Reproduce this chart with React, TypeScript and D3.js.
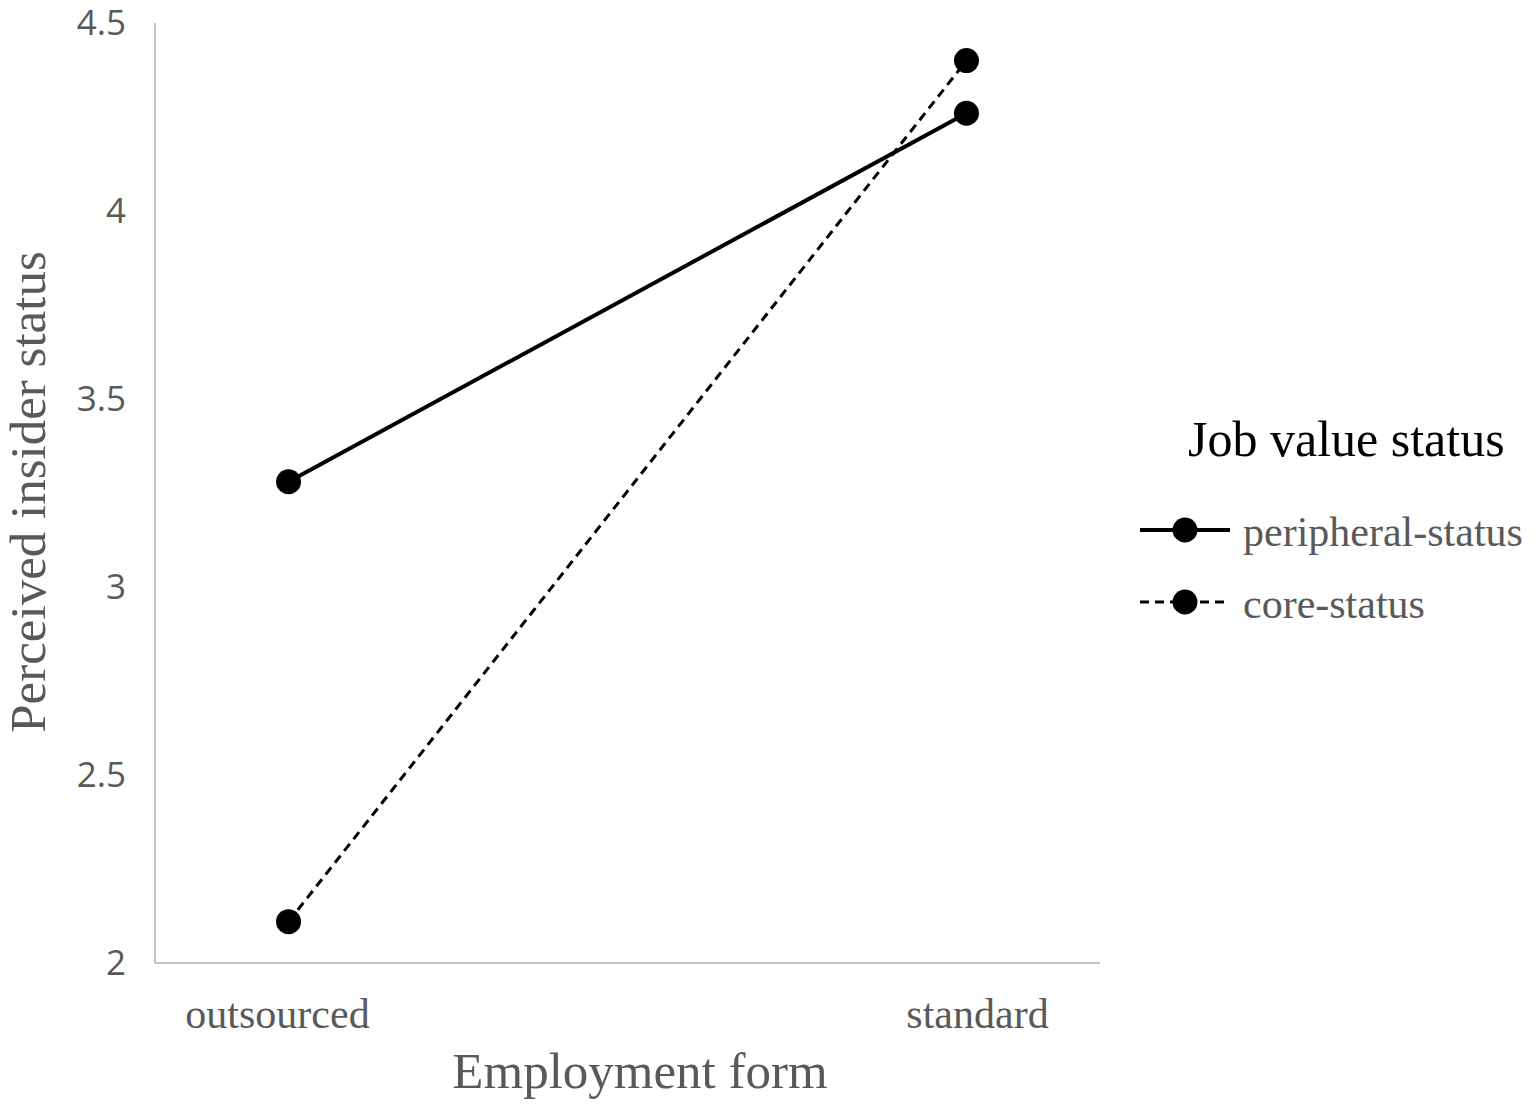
import { scaleLinear, scalePoint, line } from 'd3'

const categories = ['outsourced', 'standard']
const seriesNames = ['peripheral-status', 'core-status']
const peripheral = [3.28, 4.26]
const core = [2.11, 4.40]
const yTicks = [2, 2.5, 3, 3.5, 4, 4.5]

const width = 1535,
      height = 1109,
      left = 155,
      right = 1100,
      top = 23,
      bottom = 963,
      serif = '"Liberation Serif", "Times New Roman", serif',
      sans = '"Open Sans", "Liberation Sans", sans-serif'

const xScale = scalePoint<string>().domain(categories).range([left, right]).padding(0.197)
// labels sit a touch wider than the markers
const labelScale = scalePoint<string>().domain(categories).range([left, right]).padding(0.175)
const yScale = scaleLinear().domain([2, 4.5]).range([bottom, top])

const series = [
  { name: seriesNames[0], values: peripheral, dash: undefined, sw: 4 },
  { name: seriesNames[1], values: core, dash: '9,6', sw: 3 },
]

const lineGen = line<number>()
  .x((_, i) => xScale(categories[i]) as number)
  .y(d => yScale(d))

export default function App() {
  return (
    <svg width={width} height={height}
      style={{ position: 'absolute', left: 0, top: 0, background: '#fff' }}>
      {/* axes */}
      <line x1={left} x2={left} y1={top} y2={bottom} stroke='#c4c4c4' strokeWidth={2} />
      <line x1={left} x2={right} y1={bottom} y2={bottom} stroke='#c4c4c4' strokeWidth={2} />

      <g className='axis left'>
        {yTicks.map(t => (
          <text key={t} x={126} y={yScale(t)} dy='0.35em' textAnchor='end'
            fontFamily={sans} fontSize={35} fill='#595959'>{t}</text>
        ))}
      </g>

      <g className='axis bottom'>
        {categories.map(c => (
          <text key={c} x={labelScale(c)} y={1028} textAnchor='middle'
            fontFamily={serif} fontSize={42} fill='#595959'>{c}</text>
        ))}
      </g>

      <text x={640} y={1088} textAnchor='middle' fontFamily={serif} fontSize={51} fill='#595959'>
        Employment form
      </text>
      <text transform={`translate(45, 492) rotate(-90)`} textAnchor='middle'
        fontFamily={serif} fontSize={51} fill='#595959'>
        Perceived insider status
      </text>

      <g className='series'>
        {series.map(s => (
          <g key={s.name}>
            <path d={lineGen(s.values) as string} fill='none' stroke='#000'
              strokeWidth={s.sw} strokeDasharray={s.dash} />
            {s.values.map((v, i) => (
              <circle key={i} cx={xScale(categories[i])} cy={yScale(v)} r={12.5} fill='#000' />
            ))}
          </g>
        ))}
      </g>

      <g className='legend'>
        <text x={1188} y={456} fontFamily={serif} fontSize={50} fill='#000'>Job value status</text>
        {series.map((s, i) => {
          const ly = 530 + i * 72
          return (
            <g key={s.name}>
              <line x1={1140} x2={1230} y1={ly} y2={ly} stroke='#000'
                strokeWidth={s.sw} strokeDasharray={s.dash} />
              <circle cx={1185} cy={ly} r={12.5} fill='#000' />
              <text x={1243} y={ly + 16} fontFamily={serif} fontSize={42} fill='#595959'>{s.name}</text>
            </g>
          )
        })}
      </g>
    </svg>
  )
}
